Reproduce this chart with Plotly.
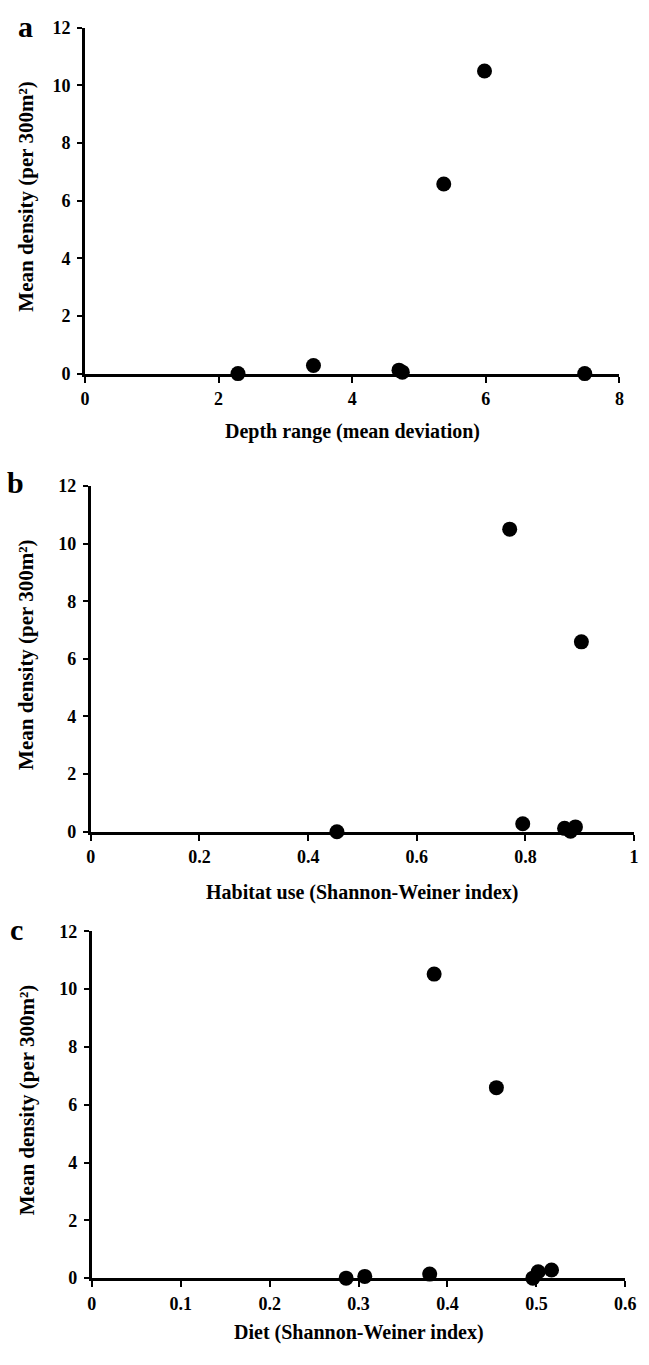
import plotly.graph_objects as go

# Panel a: depth range vs density
depth_x = [2.29, 3.42, 4.70, 4.75, 5.37, 5.98, 7.48]
depth_y = [0.0, 0.28, 0.12, 0.05, 6.58, 10.5, 0.0]
# Panel b: habitat use vs density
habitat_x = [0.453, 0.771, 0.903, 0.795, 0.872, 0.883, 0.892]
habitat_y = [0.0, 10.5, 6.59, 0.28, 0.12, 0.02, 0.17]
# Panel c: diet vs density
diet_x = [0.286, 0.307, 0.380, 0.385, 0.455, 0.496, 0.502, 0.517]
diet_y = [0.0, 0.06, 0.14, 10.52, 6.59, 0.0, 0.22, 0.28]

y_ticks = [0, 2, 4, 6, 8, 10, 12]
a_ticks = [0, 2, 4, 6, 8]
b_ticks = [0, 0.2, 0.4, 0.6, 0.8, 1]
b_labels = ["0", "0.2", "0.4", "0.6", "0.8", "1"]
c_ticks = [0, 0.1, 0.2, 0.3, 0.4, 0.5, 0.6]
c_labels = ["0", "0.1", "0.2", "0.3", "0.4", "0.5", "0.6"]

W, H = 649, 1365
FONT = "Liberation Serif"

def px_x(v):
    return v / W

def px_y(v):
    return 1 - v / H

panels = [
    dict(x=depth_x, y=depth_y, xl=(82, 630), yl=(18, 369), xr=[0, 8], xt=a_ticks, xtl=[str(t) for t in a_ticks],
         title="Depth range (mean deviation)", ty=428, letter="a", lx=21, ly=17, yc=189),
    dict(x=habitat_x, y=habitat_y, xl=(88, 645), yl=(483, 834), xr=[0, 1], xt=b_ticks, xtl=b_labels,
         title="Habitat use (Shannon-Weiner index)", ty=896, letter="b", lx=11, ly=480, yc=654),
    dict(x=diet_x, y=diet_y, xl=(89, 636), yl=(935, 1287), xr=[0, 0.6], xt=c_ticks, xtl=c_labels,
         title="Diet (Shannon-Weiner index)", ty=1342, letter="c", lx=12, ly=933, yc=1106),
]

fig = go.Figure()
layout = dict(width=W, height=H, margin=dict(l=0, r=0, t=0, b=0),
              paper_bgcolor="white", plot_bgcolor="white", showlegend=False,
              font=dict(family=FONT, color="black"))
annotations = []
tickfont = dict(family=FONT, size=18, color="black", weight="bold")
for i, p in enumerate(panels, start=1):
    xa = "x" if i == 1 else f"x{i}"
    ya = "y" if i == 1 else f"y{i}"
    fig.add_trace(go.Scatter(x=p["x"], y=p["y"], mode="markers", xaxis=xa, yaxis=ya,
                             marker=dict(size=15, color="black"), cliponaxis=False))
    layout[f"xaxis{'' if i == 1 else i}"] = dict(
        domain=[px_x(p["xl"][0]), px_x(p["xl"][1])], range=p["xr"], anchor=ya,
        showline=True, linecolor="black", linewidth=3, ticks="outside", ticklen=6, tickwidth=2,
        tickcolor="black", tickvals=p["xt"], ticktext=p["xtl"], showgrid=False, zeroline=False,
        ticklabelstandoff=1, tickfont=tickfont, fixedrange=True)
    layout[f"yaxis{'' if i == 1 else i}"] = dict(
        domain=[px_y(p["yl"][1]), px_y(p["yl"][0])], range=[0, 12], anchor=xa,
        showline=True, linecolor="black", linewidth=3, ticks="outside", ticklen=5, tickwidth=2,
        tickcolor="black", tickvals=y_ticks, showgrid=False, zeroline=False,
        ticklabelstandoff=3, tickfont=tickfont, fixedrange=True)
    cx = (p["xl"][0] + p["xl"][1]) / 2
    annotations.append(dict(x=px_x(cx), y=px_y(p["ty"]), xref="paper", yref="paper",
                            text=p["title"], showarrow=False, xanchor="center", yanchor="middle",
                            font=dict(family=FONT, size=20, color="black", weight="bold")))
    annotations.append(dict(x=px_x(22), y=px_y(p["yc"]), xref="paper", yref="paper",
                            text="Mean density (per 300m²)", textangle=-90, showarrow=False,
                            xanchor="center", yanchor="middle",
                            font=dict(family=FONT, size=21, color="black", weight="bold")))
    annotations.append(dict(x=px_x(p["lx"]), y=px_y(p["ly"]), xref="paper", yref="paper",
                            text=p["letter"], showarrow=False, xanchor="center", yanchor="middle",
                            font=dict(family=FONT, size=30, color="black", weight="bold")))
layout["annotations"] = annotations
fig.update_layout(**layout)
fig.write_html("out.html")
